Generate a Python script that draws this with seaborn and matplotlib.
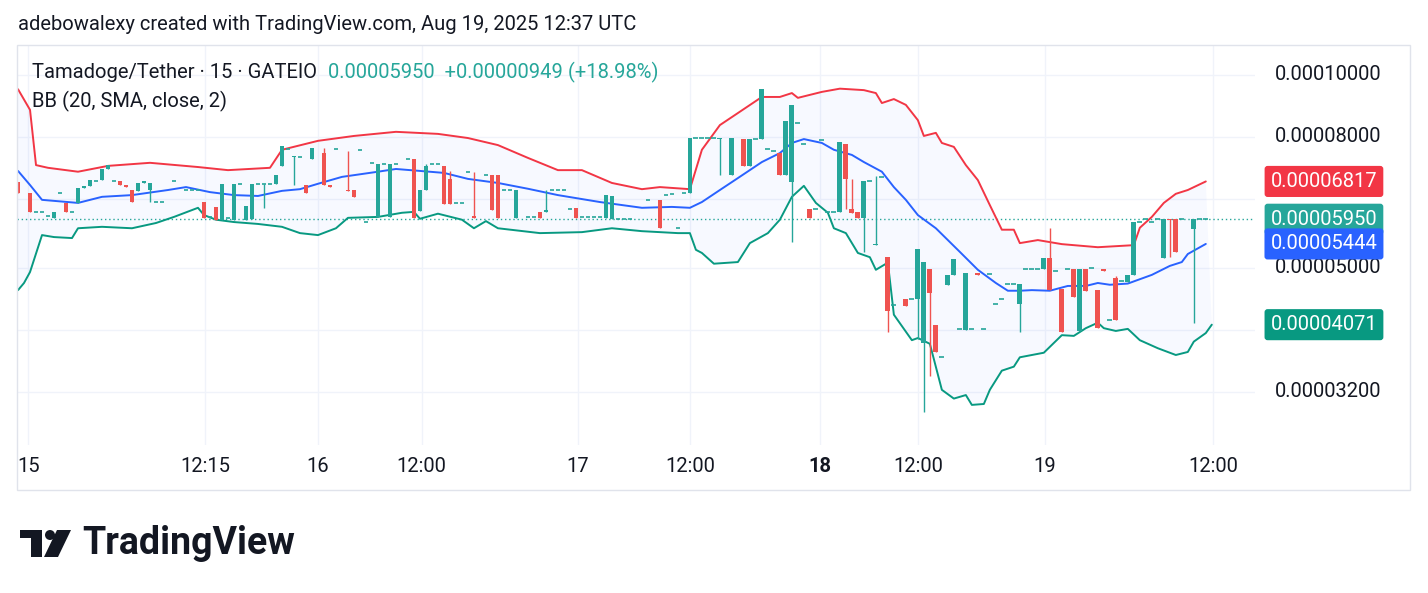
import numpy as np
import pandas as pd
import matplotlib
matplotlib.use("Agg")
import matplotlib.pyplot as plt
import matplotlib.patches as mpatches
import matplotlib.transforms as mtrans
import seaborn as sns

# prices are in units of 1e-5 USDT
SCALE = 1e-5

# 15 minute bars: (bar index, open, high, low, close)
ohlc_rows = [
    (0, 6.80, 6.80, 6.55, 6.55), (2, 6.55, 6.55, 6.10, 6.10), (3, 6.10, 6.10, 6.10, 6.10),
    (4, 6.10, 6.10, 6.10, 6.10), (5, 6.02, 6.02, 6.02, 6.02), (6, 5.98, 6.10, 5.98, 6.10),
    (7, 6.55, 6.55, 6.55, 6.55), (8, 6.30, 6.30, 6.10, 6.10), (9, 6.10, 6.10, 6.10, 6.10),
    (10, 6.30, 6.65, 6.30, 6.65), (11, 6.65, 6.70, 6.65, 6.70), (12, 6.70, 6.85, 6.70, 6.85),
    (13, 6.83, 6.83, 6.83, 6.83), (14, 6.85, 7.12, 6.85, 7.12), (15, 7.12, 7.22, 7.12, 7.22),
    (16, 6.83, 6.83, 6.83, 6.83), (17, 6.83, 6.83, 6.72, 6.72), (18, 6.72, 6.72, 6.68, 6.68),
    (19, 6.60, 6.60, 6.32, 6.32), (20, 6.58, 6.78, 6.58, 6.78), (21, 6.78, 6.84, 6.78, 6.84),
    (22, 6.60, 6.78, 6.32, 6.78), (23, 6.32, 6.32, 6.32, 6.32), (24, 6.32, 6.32, 6.32, 6.32),
    (26, 6.84, 6.84, 6.84, 6.84), (28, 6.60, 6.60, 6.60, 6.60), (29, 6.60, 6.60, 6.60, 6.60),
    (30, 6.60, 6.60, 6.60, 6.60), (31, 6.33, 6.33, 5.98, 5.98), (32, 6.00, 6.00, 6.00, 6.00),
    (33, 6.22, 6.22, 5.93, 5.93), (34, 5.93, 6.75, 5.93, 6.75), (35, 5.97, 5.97, 5.97, 5.97),
    (36, 5.93, 6.75, 5.93, 6.75), (37, 6.75, 6.75, 6.75, 6.75), (38, 5.94, 6.25, 5.94, 6.25),
    (39, 5.95, 6.75, 5.95, 6.75), (40, 6.75, 6.75, 6.75, 6.75), (41, 6.75, 6.75, 6.20, 6.75),
    (42, 6.75, 6.75, 6.75, 6.75), (43, 6.75, 6.98, 6.75, 6.98), (44, 7.20, 7.75, 7.20, 7.75),
    (45, 7.65, 7.65, 7.65, 7.65), (46, 7.45, 7.48, 6.72, 7.48), (47, 7.45, 7.45, 7.45, 7.45),
    (48, 6.72, 6.72, 6.55, 6.55), (49, 7.40, 7.70, 7.40, 7.70), (51, 7.55, 7.70, 6.72, 6.72),
    (52, 6.72, 6.72, 6.68, 6.68), (53, 7.65, 7.65, 7.65, 7.65), (55, 6.62, 7.60, 6.58, 6.58),
    (56, 6.60, 6.60, 6.45, 6.45), (57, 7.63, 7.63, 7.63, 7.63), (58, 5.90, 5.90, 5.90, 5.90),
    (59, 7.28, 7.28, 7.28, 7.28), (60, 6.00, 7.27, 6.00, 7.27), (61, 7.27, 7.27, 7.27, 7.27),
    (62, 6.00, 7.27, 6.00, 7.27), (63, 7.27, 7.27, 7.27, 7.27), (65, 7.38, 7.38, 7.38, 7.38),
    (66, 7.38, 7.38, 5.98, 5.98), (67, 6.12, 6.60, 6.12, 6.60), (68, 6.60, 7.27, 6.60, 7.20),
    (69, 7.27, 7.27, 7.27, 7.27), (70, 7.27, 7.27, 7.27, 7.27), (71, 7.20, 7.20, 6.28, 6.28),
    (72, 6.88, 7.07, 6.28, 6.28), (73, 6.30, 6.30, 6.30, 6.30), (74, 6.30, 6.30, 6.30, 6.30),
    (75, 7.05, 7.05, 7.05, 7.05), (76, 6.02, 7.05, 5.98, 5.98), (78, 6.98, 6.98, 6.98, 6.98),
    (79, 6.97, 6.97, 6.15, 6.15), (80, 6.97, 6.97, 5.98, 5.98), (81, 6.60, 6.60, 6.60, 6.60),
    (82, 6.60, 6.60, 6.60, 6.60), (83, 5.98, 6.62, 5.98, 6.62), (85, 6.00, 6.00, 6.00, 6.00),
    (86, 6.00, 6.00, 6.00, 6.00), (87, 6.10, 6.10, 5.98, 5.98), (88, 6.10, 6.60, 6.10, 6.15),
    (89, 6.62, 6.62, 6.62, 6.62), (90, 6.62, 6.62, 6.62, 6.62), (91, 6.62, 6.62, 6.62, 6.62),
    (92, 6.18, 6.18, 6.18, 6.18), (93, 6.20, 6.20, 5.98, 5.98), (94, 6.00, 6.00, 6.00, 6.00),
    (95, 6.00, 6.00, 6.00, 6.00), (96, 6.00, 6.00, 6.00, 6.00), (97, 6.00, 6.00, 6.00, 6.00),
    (98, 5.98, 6.50, 5.98, 6.50), (99, 5.96, 6.48, 5.96, 6.48), (100, 5.96, 5.96, 5.96, 5.96),
    (101, 5.96, 5.96, 5.96, 5.96), (102, 5.96, 5.96, 5.96, 5.96), (105, 6.38, 6.38, 6.38, 6.38),
    (107, 6.38, 6.38, 5.77, 5.77), (108, 6.50, 6.50, 6.50, 6.50), (109, 6.52, 6.52, 6.52, 6.52),
    (110, 5.77, 5.77, 5.77, 5.77), (111, 6.55, 6.55, 6.55, 6.55), (112, 6.55, 7.98, 6.55, 7.98),
    (113, 7.97, 7.97, 7.97, 7.97), (114, 7.97, 7.97, 7.97, 7.97), (115, 7.97, 7.97, 7.97, 7.97),
    (116, 7.97, 7.97, 7.97, 7.97), (117, 7.95, 7.97, 6.98, 7.97), (119, 6.97, 7.97, 6.97, 7.97),
    (121, 7.95, 7.95, 7.20, 7.20), (122, 7.20, 7.95, 7.20, 7.95), (123, 7.95, 7.95, 7.95, 7.95),
    (124, 7.93, 9.50, 7.93, 9.50), (125, 7.65, 7.65, 7.65, 7.65), (126, 7.60, 7.60, 7.60, 7.60),
    (127, 7.55, 7.55, 6.97, 6.97), (128, 6.97, 8.48, 6.97, 8.48), (129, 6.80, 8.98, 5.49, 8.98),
    (130, 8.42, 8.42, 8.42, 8.42), (131, 7.80, 7.80, 7.80, 7.80), (132, 6.18, 6.18, 5.97, 5.97),
    (133, 6.18, 6.18, 6.18, 6.18), (134, 7.90, 7.90, 7.90, 7.90), (135, 6.10, 6.10, 6.10, 6.10),
    (136, 6.10, 6.10, 6.10, 6.10), (137, 6.10, 7.87, 6.10, 7.87), (138, 7.80, 7.80, 6.18, 6.87),
    (139, 6.18, 6.88, 6.08, 6.08), (140, 6.10, 6.10, 5.97, 5.97), (141, 5.97, 6.82, 5.28, 6.82),
    (142, 6.82, 6.82, 6.82, 6.82), (143, 5.42, 6.95, 5.42, 5.45), (144, 6.92, 6.92, 6.92, 6.92),
    (145, 5.20, 5.20, 3.97, 4.27), (146, 4.37, 4.37, 4.37, 4.37), (148, 4.47, 4.47, 4.36, 4.36),
    (149, 4.47, 4.47, 4.47, 4.47), (150, 4.47, 5.35, 3.86, 5.35), (151, 3.81, 5.10, 2.97, 5.10),
    (152, 4.98, 4.98, 3.38, 4.57), (153, 4.06, 4.06, 3.69, 3.69), (154, 3.62, 3.62, 3.62, 3.62),
    (155, 4.70, 4.87, 4.70, 4.87), (156, 4.87, 5.15, 4.87, 5.15), (157, 4.01, 4.01, 4.01, 4.01),
    (158, 4.00, 4.90, 4.00, 4.90), (159, 4.01, 4.01, 4.01, 4.01), (160, 4.90, 4.90, 4.87, 4.87),
    (161, 4.01, 4.01, 4.01, 4.01), (162, 4.88, 4.88, 4.88, 4.88), (163, 4.38, 4.38, 4.38, 4.38),
    (164, 4.47, 4.47, 4.47, 4.47), (165, 4.72, 4.72, 4.72, 4.72), (166, 4.72, 4.72, 4.72, 4.72),
    (167, 4.38, 4.72, 3.97, 4.72), (168, 4.97, 4.97, 4.97, 4.97), (169, 4.97, 4.97, 4.97, 4.97),
    (170, 4.97, 4.97, 4.97, 4.97), (171, 4.97, 5.17, 4.97, 5.17), (172, 5.18, 5.76, 4.62, 4.62),
    (173, 4.93, 4.93, 4.93, 4.93), (174, 4.63, 4.63, 3.97, 3.97), (175, 4.97, 4.97, 4.97, 4.97),
    (176, 4.97, 4.97, 4.50, 4.50), (177, 3.98, 4.97, 3.98, 4.97), (178, 4.97, 4.97, 4.60, 4.60),
    (179, 4.99, 4.99, 4.99, 4.99), (180, 4.62, 4.62, 4.02, 4.02), (181, 4.98, 4.98, 4.93, 4.93),
    (182, 4.14, 4.14, 4.14, 4.14), (183, 4.82, 4.85, 4.14, 4.14), (184, 4.76, 4.76, 4.76, 4.76),
    (185, 4.75, 4.86, 4.75, 4.86), (186, 4.87, 5.89, 4.87, 5.89), (187, 5.89, 5.89, 5.89, 5.89),
    (188, 5.96, 5.96, 5.96, 5.96), (189, 5.89, 5.89, 5.89, 5.89), (190, 5.96, 5.96, 5.96, 5.96),
    (191, 5.18, 5.96, 5.18, 5.96), (192, 5.96, 5.96, 5.20, 5.93), (193, 5.95, 5.95, 5.28, 5.28),
    (194, 5.95, 5.95, 5.95, 5.95), (196, 5.75, 5.95, 4.10, 5.95), (197, 5.95, 5.95, 5.95, 5.95),
    (198, 5.95, 5.95, 5.95, 5.95),
]
bar_idx, open_, high, low, close = map(np.array, zip(*ohlc_rows))

# Bollinger bands (bar index, value)
upper_idx = [0, 2, 3, 5, 10, 15, 22, 30, 35, 42, 44, 50, 56, 63, 70, 75, 80, 85, 90, 94, 99, 104,
             107, 112, 114, 117, 120, 124, 127, 129, 130, 134, 137, 141, 143, 144, 146, 148, 150,
             151, 153, 154, 156, 158, 160, 162, 164, 166, 167, 170, 174, 180, 186, 187, 189, 191,
             193, 195, 198]
upper_val = [9.50, 8.82, 7.23, 7.16, 7.06, 7.21, 7.29, 7.18, 7.10, 7.16, 7.64, 7.89, 8.03, 8.15,
             8.09, 7.97, 7.77, 7.42, 7.10, 7.10, 6.78, 6.63, 6.68, 6.63, 7.64, 8.35, 8.72, 9.24,
             9.24, 9.37, 9.21, 9.41, 9.52, 9.47, 9.37, 9.04, 9.17, 8.98, 8.50, 8.03, 8.12, 7.83,
             7.72, 7.23, 6.85, 6.26, 5.73, 5.73, 5.46, 5.52, 5.44, 5.38, 5.42, 5.77, 6.00, 6.31,
             6.52, 6.61, 6.817]
mid_idx = [0, 2, 4, 10, 14, 19, 25, 28, 32, 36, 40, 44, 47, 50, 54, 60, 63, 67, 71, 75, 80, 85,
           90, 97, 104, 109, 112, 114, 117, 120, 124, 127, 129, 131, 134, 136, 139, 141, 144, 146,
           148, 150, 153, 155, 157, 160, 163, 165, 167, 169, 172, 175, 178, 180, 182, 185, 189,
           192, 194, 195, 198]
mid_val = [7.08, 6.73, 6.38, 6.31, 6.45, 6.49, 6.61, 6.68, 6.56, 6.49, 6.47, 6.59, 6.63, 6.76,
           6.93, 7.06, 7.13, 7.08, 7.03, 6.88, 6.78, 6.64, 6.49, 6.33, 6.20, 6.22, 6.20, 6.33,
           6.61, 6.90, 7.31, 7.55, 7.83, 7.94, 7.83, 7.64, 7.50, 7.31, 7.06, 6.68, 6.38, 6.04,
           5.76, 5.52, 5.29, 4.96, 4.73, 4.60, 4.60, 4.61, 4.60, 4.68, 4.68, 4.73, 4.70, 4.72,
           4.87, 5.03, 5.10, 5.25, 5.444]
lower_idx = [0, 1, 2, 4, 6, 9, 10, 14, 19, 23, 26, 30, 31, 33, 36, 40, 44, 47, 50, 53, 55, 60,
             64, 66, 67, 70, 74, 76, 78, 80, 87, 94, 99, 104, 110, 112, 113, 114, 116, 120, 122,
             125, 127, 129, 131, 133, 135, 136, 138, 140, 142, 143, 145, 146, 149, 150, 152, 154,
             156, 158, 159, 161, 162, 164, 166, 167, 171, 174, 176, 178, 180, 181, 183, 185, 187,
             190, 193, 195, 196, 198, 199]
lower_val = [4.61, 4.73, 4.92, 5.62, 5.58, 5.56, 5.76, 5.79, 5.76, 5.87, 6.00, 6.20, 6.04, 5.94,
             5.89, 5.85, 5.79, 5.66, 5.62, 5.76, 5.98, 6.00, 6.09, 6.11, 5.96, 6.07, 5.94, 5.76,
             5.91, 5.76, 5.66, 5.68, 5.76, 5.70, 5.66, 5.66, 5.33, 5.27, 5.07, 5.10, 5.46, 5.66,
             5.94, 6.45, 6.71, 6.31, 6.09, 5.76, 5.66, 5.27, 5.19, 4.96, 5.09, 4.22, 3.85, 3.88,
             3.80, 3.22, 3.12, 3.16, 3.05, 3.06, 3.22, 3.45, 3.50, 3.62, 3.68, 3.92, 3.91, 4.02,
             4.10, 4.02, 3.98, 4.01, 3.85, 3.74, 3.65, 3.69, 3.83, 3.95, 4.071]

last_price = 5.95
price_ticks = [10.0, 8.0, 5.0, 3.2]
grid_prices = [10.0, 8.0, 6.4, 5.0, 4.0, 3.2]
time_pos = [1.7, 31.2, 50, 67.3, 93.3, 112, 133.7, 150, 171.2, 199.2]
time_labels = ["15", "12:15", "16", "12:00", "17", "12:00", "18", "12:00", "19", "12:00"]

GREEN = "#26a69a"
RED = "#ef5350"
TEXT = "#131722"
FS = 14.5

sns.set_theme(style="white", font="Roboto")
W, H = 1428, 593
fig = plt.figure(figsize=(W / 100, H / 100), dpi=100)
ax = fig.add_axes([17 / W, 1 - 445 / H, 1238 / W, 400 / H])
ax.set_yscale("log")
ax.set_xlim(-0.17, 206.2)
ax.set_ylim(2.64, 11.14)
for s in ax.spines.values():
    s.set_visible(False)
ax.set_xticks([])
ax.set_yticks([])
ax.minorticks_off()

for p in grid_prices:
    ax.axhline(p, color="#f0f3fa", lw=1, zorder=0)
for t in time_pos:
    ax.axvline(t, color="#f0f3fa", lw=1, zorder=0)

# band fill
poly_x = list(upper_idx) + list(lower_idx[::-1])
poly_y = list(upper_val) + list(lower_val[::-1])
ax.fill(poly_x, poly_y, color="#2962ff", alpha=0.035, lw=0, zorder=1)

bands = pd.concat([
    pd.DataFrame({"bar": upper_idx, "val": upper_val, "band": "upper"}),
    pd.DataFrame({"bar": mid_idx, "val": mid_val, "band": "basis"}),
    pd.DataFrame({"bar": lower_idx, "val": lower_val, "band": "lower"}),
])
sns.lineplot(data=bands, x="bar", y="val", hue="band", ax=ax, legend=False, lw=1.4,
             palette={"upper": "#f23645", "basis": "#2962ff", "lower": "#089981"},
             sort=False, zorder=3)
ax.set_xlabel("")
ax.set_ylabel("")

# candles
colors = np.where(close < open_, RED, GREEN)
ax.vlines(bar_idx, low, high, colors=colors, lw=1, zorder=4)
body_lo = np.minimum(open_, close)
body_hi = np.maximum(open_, close)
ax.bar(bar_idx, body_hi - body_lo, bottom=body_lo, width=0.8, color=colors, lw=0, zorder=5)
flat = body_hi - body_lo < 0.005
ax.hlines(close[flat], bar_idx[flat] - 0.4, bar_idx[flat] + 0.4, colors=colors[flat], lw=1.2, zorder=5)

ax.axhline(last_price, color=GREEN, lw=1, ls=(0, (1, 2)), zorder=2)

# right price scale
tr = mtrans.blended_transform_factory(ax.transAxes, ax.transData)
for p in price_ticks:
    ax.text(1.0162, p, f"{p * SCALE:.8f}", transform=tr, ha="left", va="center",
            fontsize=FS, color=TEXT)
for val, col in [(6.817, "#f23645"), (last_price, GREEN), (5.444, "#2962ff"), (4.071, "#089981")]:
    ax.text(1.0557, val, f"{val * SCALE:.8f}", transform=tr, ha="center", va="center",
            fontsize=FS, color="white",
            bbox=dict(boxstyle="round,pad=0.3,rounding_size=0.15", fc=col, ec="none"))

# time scale
tr2 = mtrans.blended_transform_factory(ax.transData, ax.transAxes)
for t, lab in zip(time_pos, time_labels):
    ax.text(t, -0.055, lab, transform=tr2, ha="center", va="center", fontsize=FS, color=TEXT,
            fontweight="bold" if lab == "18" else "normal")

# outer frame
fig.patches.append(mpatches.Rectangle((17 / W, 1 - 490 / H), 1393 / W, 445 / H,
                                      transform=fig.transFigure, fill=False, ec="#e0e3eb", lw=1))

fig.text(18 / W, 1 - 25 / H, "adebowalexy created with TradingView.com, Aug 19, 2025 12:37 UTC",
         fontsize=FS, color=TEXT, va="center")
fig.text(32 / W, 1 - 72 / H, "Tamadoge/Tether · 15 · GATEIO", fontsize=FS, color=TEXT, va="center")
fig.text(328 / W, 1 - 72 / H, "0.00005950  +0.00000949 (+18.98%)", fontsize=FS, color=GREEN, va="center")
fig.text(32 / W, 1 - 101 / H, "BB (20, SMA, close, 2)", fontsize=FS, color=TEXT, va="center")

# TradingView logo
def fx(x):
    return x / W

def fy(y):
    return 1 - y / H

logo = [
    mpatches.Polygon([(fx(20), fy(530)), (fx(42), fy(530)), (fx(42), fy(557)), (fx(31), fy(557)),
                      (fx(31), fy(538)), (fx(20), fy(538))], closed=True),
    mpatches.Ellipse((fx(50), fy(535)), 10 / W, 10 / H),
    mpatches.Polygon([(fx(44), fy(557)), (fx(57), fy(530)), (fx(71), fy(530)), (fx(58), fy(557))], closed=True),
]
for patch in logo:
    patch.set_transform(fig.transFigure)
    patch.set_facecolor(TEXT)
    patch.set_edgecolor("none")
    fig.patches.append(patch)
fig.text(82 / W, 1 - 543 / H, "TradingView", fontsize=27, color=TEXT, va="center", fontweight="semibold")

fig.savefig("out.png", dpi=100, facecolor="white")
